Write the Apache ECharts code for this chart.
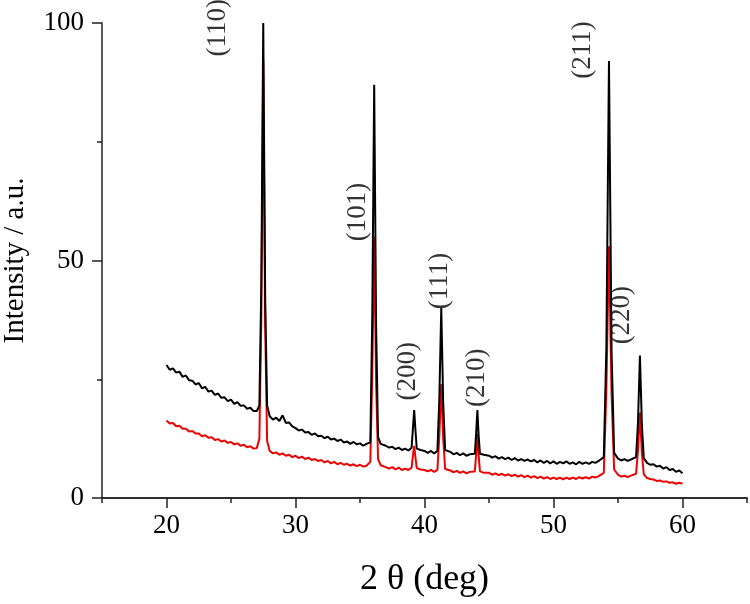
<!DOCTYPE html>
<html>
<head>
<meta charset="utf-8">
<script src="https://cdn.jsdelivr.net/npm/echarts@6/dist/echarts.min.js"></script>
<style>html,body{margin:0;padding:0;background:#fff}#chart{width:750px;height:604px}</style>
</head>
<body>
<div id="chart"></div>
<script>
const twoTheta = [20,20.25,20.5,20.75,21,21.25,21.5,21.75,22,22.25,22.5,22.75,23,23.25,23.5,23.75,24,24.25,24.5,24.75,25,25.25,25.5,25.75,26,26.25,26.5,26.75,27,
 27.2,27.35,27.5,27.65,27.8,
 28,28.25,28.5,28.75,29,29.25,29.5,29.75,30,30.25,30.5,30.75,31,31.25,31.5,31.75,32,32.25,32.5,32.75,33,33.25,33.5,33.75,34,34.25,34.5,34.75,35,35.25,35.5,
 35.8,35.95,36.1,36.25,36.4,36.6,
 37,37.25,37.5,37.75,38,38.25,38.5,38.75,
 39.0,39.1,39.2,39.3,39.4,39.7,
 40,40.25,40.5,40.75,41,
 41.15,41.3,41.45,41.6,
 42,42.25,42.5,42.75,43,43.25,43.5,43.9,
 44.0,44.1,44.2,44.3,44.6,
 45,45.25,45.5,45.75,46,46.25,46.5,46.75,47,47.25,47.5,47.75,48,48.25,48.5,48.75,49,49.25,49.5,49.75,50,50.25,50.5,50.75,51,51.25,51.5,51.75,52,52.25,52.5,52.75,53,53.25,53.5,53.9,
 54.1,54.3,54.5,54.7,
 55,55.25,55.5,55.75,56,56.4,
 56.55,56.7,56.85,57.0,
 57.25,57.5,57.75,58,58.25,58.5,58.75,59,59.25,59.5,59.75,60];
const sampleBlack = [28.0,27.0,27.3,26.4,26.6,25.5,25.8,24.8,24.7,23.9,24.2,23.1,23.4,22.4,22.6,21.7,22.0,21.1,21.2,20.4,20.7,19.8,20.2,19.4,19.5,18.8,19.0,18.3,18.3,
 19.5,45,100,42,19.5,
 17.2,16.5,16.9,16.2,17.4,15.8,15.9,15.1,14.7,14.2,14.4,13.8,13.9,13.3,13.6,13.0,13.1,12.6,12.9,12.3,12.5,12.0,12.3,11.7,11.9,11.4,11.8,11.3,11.5,11.0,11.4,
 11.7,38,87,36,12.8,11.4,
 11.0,10.6,10.8,10.3,10.6,10.1,10.4,10.0,
 10.6,14.5,18.5,14.2,10.4,10.1,
 9.9,9.5,9.9,9.4,9.9,
 21,40,20,10.1,
 9.7,9.2,9.5,9.0,9.4,8.9,9.2,9.3,
 13.5,18.5,13,9.3,9.1,
 8.9,8.5,8.8,8.3,8.6,8.2,8.5,8.0,8.4,7.9,8.2,7.8,8.1,7.7,8.0,7.5,7.9,7.4,7.8,7.3,7.7,7.2,7.6,7.3,7.7,7.2,7.5,7.1,7.6,7.2,7.5,7.2,7.6,7.4,7.8,8.6,
 32,92,31,9.5,
 8.3,7.9,8.2,7.8,8.1,8.6,
 16,30,15.5,8.4,
 7.4,7.0,7.1,6.6,6.8,6.2,6.5,5.9,6.1,5.5,5.8,5.2];
const sampleRed = [16.3,15.7,15.8,15.1,15.2,14.6,14.6,14.0,14.1,13.6,13.6,13.0,13.2,12.7,12.8,12.2,12.4,11.9,12.1,11.6,11.8,11.3,11.5,11.0,11.2,10.7,10.9,10.4,10.5,
 12.5,38,92,36,12,
 9.9,9.4,9.6,9.1,9.4,8.9,9.1,8.6,8.9,8.4,8.7,8.2,8.5,8.0,8.2,7.8,8.0,7.5,7.8,7.3,7.6,7.1,7.4,7.0,7.2,6.8,7.1,6.7,7.0,6.6,6.8,
 7.6,26,55,24,8.2,6.9,
 6.5,6.2,6.5,6.0,6.4,5.9,6.2,5.9,
 6.4,8.8,11,8.5,6.3,6.0,
 5.9,5.6,5.9,5.5,5.9,
 13,24,12.5,6.1,
 5.8,5.4,5.7,5.3,5.6,5.2,5.5,5.6,
 9,13.5,8.8,5.6,5.3,
 5.3,4.9,5.2,4.8,5.1,4.7,5.0,4.6,4.9,4.5,4.8,4.4,4.7,4.3,4.6,4.2,4.5,4.1,4.4,4.0,4.3,4.0,4.3,3.9,4.3,4.0,4.3,4.0,4.4,4.1,4.4,4.1,4.5,4.3,4.6,5.3,
 23,53,22,6.0,
 4.9,4.5,4.7,4.4,4.7,5.1,
 10,18,9.5,5.0,
 4.2,4.0,3.9,3.6,3.7,3.4,3.5,3.2,3.3,3.0,3.2,3.0];
const peakLabels = ['(110)','(101)','(200)','(111)','(210)','(211)','(220)'];
const labelX = [24.0, 34.8, 38.7, 41.2, 44.1, 52.3, 55.3];
const labelY = [99, 60.2, 26.7, 45.7, 25.3, 94.3, 38.5];
const xMajorTicks = [20, 30, 40, 50, 60];
const yTicks = [0, 50, 100];

const FONT = "'Liberation Serif','Times New Roman',serif";
const pair = (xs, ys) => xs.map((x, i) => [x, ys[i]]);
const axisLine = {show: true, lineStyle: {color: '#222', width: 1.5}};

const chart = echarts.init(document.getElementById('chart'));
chart.setOption({
  animation: false,
  backgroundColor: '#fff',
  grid: {left: 102, right: 3, top: 23, bottom: 106, containLabel: false, outerBoundsMode: 'none'},
  xAxis: [
    {type: 'value', min: 15, max: 65, interval: 5, position: 'bottom',
     axisLine: axisLine, axisTick: {show: true, length: 5, lineStyle: {color: '#222', width: 1.5}},
     axisLabel: {show: false}, splitLine: {show: false},
     name: '2 θ (deg)', nameLocation: 'middle', nameGap: 64,
     nameTextStyle: {fontFamily: FONT, fontSize: 36, color: '#000'}},
    {type: 'value', min: 15, max: 65, position: 'bottom', offset: 0,
     axisLine: axisLine,
     axisTick: {show: true, length: 10, customValues: xMajorTicks, lineStyle: {color: '#222', width: 1.5}},
     axisLabel: {show: true, customValues: xMajorTicks, margin: 14, fontFamily: FONT, fontSize: 27, color: '#000'},
     splitLine: {show: false}}
  ],
  yAxis: {type: 'value', min: 0, max: 100, interval: 50,
    axisLine: axisLine,
    axisTick: {show: true, length: 10, lineStyle: {color: '#222', width: 1.5}},
    minorTick: {show: true, splitNumber: 2, length: 5, lineStyle: {color: '#222', width: 1.5}},
    axisLabel: {margin: 18, fontFamily: FONT, fontSize: 27, color: '#000',
      formatter: v => yTicks.includes(v) ? String(v) : ''},
    splitLine: {show: false},
    name: 'Intensity / a.u.', nameLocation: 'middle', nameRotate: 90, nameGap: 72,
    nameTextStyle: {fontFamily: FONT, fontSize: 29, color: '#000'}},
  series: [
    {type: 'line', name: 'red', xAxisIndex: 0, data: pair(twoTheta, sampleRed), showSymbol: false,
     lineStyle: {color: '#ee0000', width: 2}, z: 2},
    {type: 'line', name: 'black', xAxisIndex: 0, data: pair(twoTheta, sampleBlack), showSymbol: false,
     lineStyle: {color: '#000', width: 2}, z: 3},
    {type: 'scatter', xAxisIndex: 0, symbolSize: 0, silent: true, clip: false,
     data: peakLabels.map((t, i) => ({name: t, value: [labelX[i], labelY[i]]})),
     label: {show: true, position: 'inside', rotate: 90, formatter: p => p.name,
       fontFamily: FONT, fontSize: 27, color: '#000', textBorderWidth: 0}, z: 4}
  ]
});
</script>
</body>
</html>
